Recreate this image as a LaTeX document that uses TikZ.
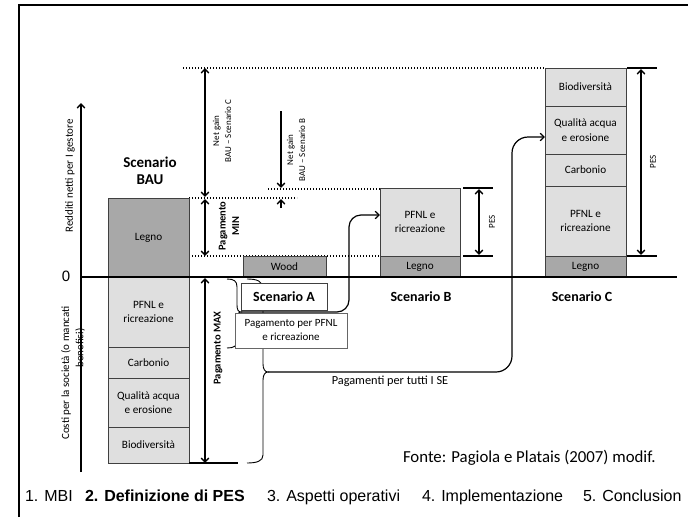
\documentclass[tikz,border=0pt]{standalone}
\usepackage{fontspec}
\setmainfont{Carlito}
\newfontfamily\arialf{Liberation Sans}
\usetikzlibrary{arrows.meta}
\definecolor{lightg}{HTML}{DFDFDF}
\definecolor{darkg}{HTML}{A8A8A8}
\definecolor{edgeg}{HTML}{404040}
\begin{document}
\begin{tikzpicture}[x=1pt,y=-1pt,
  every node/.style={inner sep=0pt, outer sep=0pt},
  lbox/.style={draw=edgeg, line width=0.8pt, fill=lightg, align=center, font=\fontsize{11.2}{14.5}\selectfont},
  dbox/.style={lbox, fill=darkg},
  wbox/.style={draw=edgeg, line width=0.8pt, fill=white, align=center},
  barb/.tip={Straight Barb[length=4pt,width=7.5pt]},
  dblarr/.style={line width=1.4pt, barb-barb},
  onearr/.style={line width=1.4pt, -barb},
  conn/.style={line width=1.2pt, -barb},
  bracel/.style={line width=0.9pt},
  dotline/.style={line width=1.4pt, dash pattern=on 1.4pt off 1.6pt},
  tick/.style={line width=1.4pt},
  lbl/.style={font=\fontsize{11}{13}\selectfont},
  small/.style={font=\fontsize{9}{12}\selectfont, align=center},
  scen/.style={font=\bfseries\fontsize{14}{17}\selectfont, align=center},
  foot/.style={anchor=base west, font=\arialf\fontsize{16}{18}\selectfont}
]
\useasboundingbox (0,0) rectangle (688,517);
\fill[white] (0,0) rectangle (688,517);

% frame
\draw[line width=2.5pt] (19,517) -- (19,5) -- (688,5);

% dotted guide lines
\draw[dotline] (183,68) -- (545,68);
\draw[dotline] (189,198) -- (297,198);
\draw[dotline] (268,189) -- (380,189);
\draw[dotline] (189,256) -- (380,256);

% braces (drawn below the white boxes)
\coordinate (sA) at (241,312);
\coordinate (sAll) at (268,372);
\draw[bracel] (227,279) .. controls (234,279) and (237,281) .. (237,287) -- (237,305)
  .. controls (237,309) and (238,312) .. (sA)
  .. controls (238,312) and (237,315) .. (237,319) -- (237,341)
  .. controls (237,346) and (234,348) .. (227,348);
\draw[bracel] (247,279) .. controls (257,279) and (263,281) .. (263,289) -- (263,364)
  .. controls (263,369) and (265,372) .. (sAll)
  .. controls (265,372) and (263,375) .. (263,380) -- (263,455)
  .. controls (263,461) and (257,463) .. (247,463);

% BAU column
\node[dbox, minimum width=81pt, minimum height=79pt] (bauLegno) at (148.5,237.5) {Legno};
\node[lbox, minimum width=81pt, minimum height=70pt] (bauPFNL) at (148.5,312) {PFNL e\\ricreazione};
\node[lbox, minimum width=81pt, minimum height=31pt] (bauCarb) at (148.5,362.5) {Carbonio};
\node[lbox, minimum width=81pt, minimum height=49pt] (bauAcqua) at (148.5,402.5) {Qualità acqua\\e erosione};
\node[lbox, minimum width=81pt, minimum height=36pt] (bauBio) at (148.5,445) {Biodiversità};

% Scenario A
\node[dbox, minimum width=83pt, minimum height=21pt] (wood) at (284.5,266.5) {Wood};

% Scenario B column
\node[lbox, minimum width=80pt, minimum height=68pt] (bPFNL) at (420,222) {PFNL e\\ricreazione};
\node[dbox, minimum width=80pt, minimum height=21pt] (bLegno) at (420,266.5) {Legno};

% Scenario C column
\node[lbox, minimum width=81pt, minimum height=38pt] (cBio) at (585.5,87) {Biodiversità};
\node[lbox, minimum width=81pt, minimum height=48pt] (cAcqua) at (585.5,130) {Qualità acqua\\e erosione};
\node[lbox, minimum width=81pt, minimum height=32pt] (cCarb) at (585.5,170) {Carbonio};
\node[lbox, minimum width=81pt, minimum height=70pt] (cPFNL) at (585.5,221) {PFNL e\\ricreazione};
\node[dbox, minimum width=81pt, minimum height=21pt] (cLegno) at (585.5,266.5) {Legno};

% connectors
\draw[conn, rounded corners=12pt] (sA) -- (349,312) -- (349,215) -- ([yshift=7pt]bPFNL.west);
\draw[conn, rounded corners=16pt] (sAll) -- (512,372) -- (512,137) -- ([yshift=-7pt]cAcqua.west);

% boxes of scenario A
\node[wbox, minimum width=86pt, minimum height=27pt, font=\bfseries\fontsize{14}{17}\selectfont] (scA) at (284,296.5) {Scenario A};
\node[wbox, draw=black!60, minimum width=112pt, minimum height=35pt, font=\fontsize{11}{14}\selectfont] (payA) at (291,330.5) {Pagamento per PFNL\\e ricreazione};

% axes
\coordinate (axB) at (81,472);
\coordinate (axT) at (81,103);
\draw[onearr] (axB) -- (axT);
\draw[line width=1.6pt] (81,277) -- (677,277);
\node[font=\arialf\fontsize{15}{15}\selectfont] (zero) at (66,276) {0};
\node[lbl, rotate=90] (redd) at (70,176) {Redditi netti per I gestore};
\node[lbl, rotate=90] (costi1) at (66,373) {Costi per la società (o mancati};
\node[lbl, rotate=90] (costi2) at (80,348) {benefici)};

% BAU arrows
\draw[dblarr] (205,68) -- (205,197);
\draw[dblarr] (205,199) -- (205,256);
\draw[dblarr] (205,278) -- (205,463);
\draw[tick] (bauBio.south east) -- (238,463);
\node[small, rotate=90] (ngC) at (222,131) {Net gain\\BAU – Scenario C};
\node[rotate=90, align=center, font=\bfseries\fontsize{10.5}{13.5}\selectfont] (pmin) at (229,226) {Pagamento\\MIN};
\node[rotate=90, font=\bfseries\fontsize{10.5}{13}\selectfont] (pmax) at (218,348) {Pagamento MAX};

% net gain B
\draw[onearr] (281,111) -- (281,188);
\draw[onearr] (281,208) -- (281,199);
\node[small, rotate=90] (ngB) at (296,150) {Net gain\\BAU – Scenario B};

% PES B
\draw[tick] (463,188) -- (493,188);
\draw[tick] (463,256) -- (493,256);
\draw[dblarr] (479,189) -- (479,255);
\node[small, rotate=90] (pesB) at (492,222) {PES};

% PES C
\draw[tick] (627,68) -- (657,68);
\draw[tick] (627,256) -- (657,256);
\draw[dblarr] (641,69) -- (641,255);
\node[small, rotate=90] (pesC) at (653,162) {PES};

% scenario titles
\node[scen, font=\bfseries\fontsize{15}{17}\selectfont] (scBAU) at (150,171) {Scenario\\BAU};
\node[scen] (scB) at (421,297) {Scenario B};
\node[scen] (scC) at (582,297) {Scenario C};

\node[font=\fontsize{12.3}{14}\selectfont] (payAll) at (390,381) {Pagamenti per tutti I SE};
\node[anchor=west, font=\fontsize{16.8}{19}\selectfont] (fonte) at (403,458) {Fonte: Pagiola e Platais (2007) modif.};

% footer
\node[foot] (f1) at (25,501) {1. MBI};
\node[foot, font=\arialf\bfseries\fontsize{16}{18}\selectfont] (f2) at (85,501) {2. Definizione di PES};
\node[foot] (f3) at (267,501) {3. Aspetti operativi};
\node[foot] (f4) at (422,501) {4. Implementazione};
\node[foot] (f5) at (583,501) {5. Conclusion};
\end{tikzpicture}
\end{document}
